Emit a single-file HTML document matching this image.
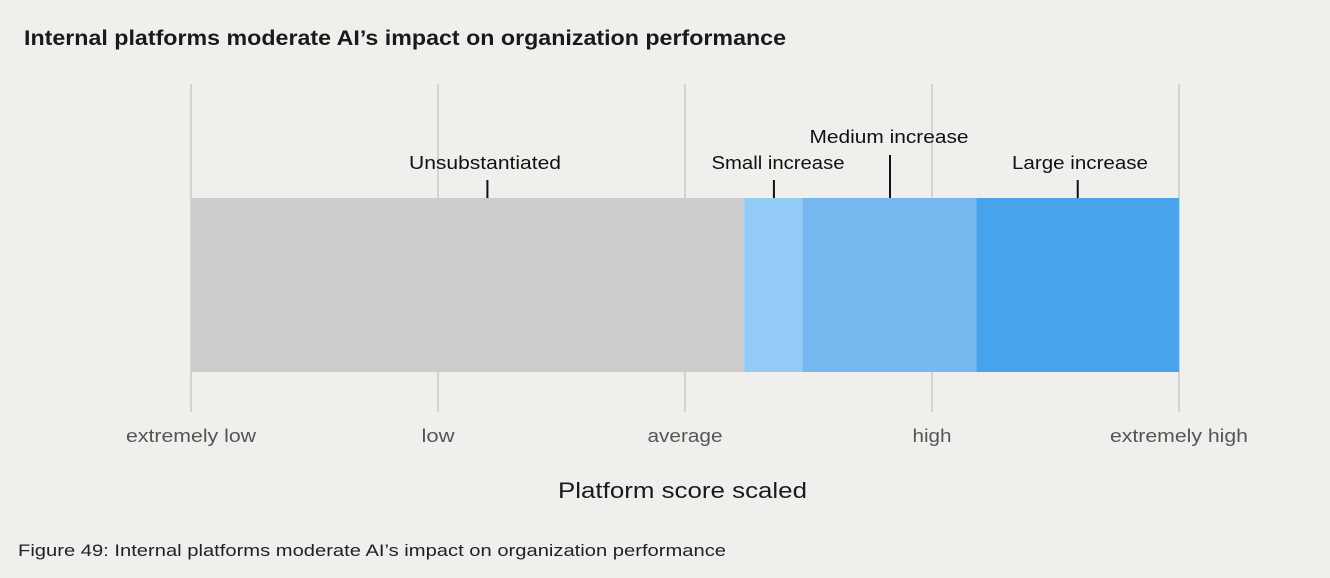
<!DOCTYPE html>
<html><head><meta charset="utf-8"><style>
body{margin:0;background:#f0efec;width:1330px;height:573px;overflow:hidden;font-family:"Liberation Sans",sans-serif}
</style></head><body>
<svg width="1330" height="573">
<text x="24" y="45" font-size="21" font-weight="bold" fill="#1a1a1a" textLength="762" lengthAdjust="spacingAndGlyphs">Internal platforms moderate AI’s impact on organization performance</text>
<g id="grid"></g><g id="bars"></g><g id="labels"></g>
<text x="558" y="498" font-size="22" fill="#1a1a1a" textLength="249" lengthAdjust="spacingAndGlyphs">Platform score scaled</text>
<text x="18" y="556" font-size="17" fill="#222" textLength="708" lengthAdjust="spacingAndGlyphs">Figure 49: Internal platforms moderate AI’s impact on organization performance</text>
</svg>
<script>
const tickLabels=["extremely low","low","average","high","extremely high"];
const segStarts=[0,2.24,2.475,3.18];
const segEnds=[2.24,2.475,3.18,4];
const segColors=["#cccccc","#92cbf5","#76b8f0","#48a3ed"];
const annNames=["Unsubstantiated","Small increase","Medium increase","Large increase"];
const annPos=[1.2,2.36,2.83,3.59];
const annLevel=[0,0,1,0];
const tickW=[130,33,75,39,138];
const annW=[152,133,159,136];
const annCx=[485,778,889,1080];
const ns="http://www.w3.org/2000/svg";
const x=v=>191+v*247;
function mk(t,a,p){const e=document.createElementNS(ns,t);for(const k in a)e.setAttribute(k,a[k]);p.appendChild(e);return e;}
const g=document.getElementById('grid'),b=document.getElementById('bars'),l=document.getElementById('labels');
tickLabels.forEach((t,i)=>{
 const ln=mk('line',{x1:x(i),x2:x(i),y1:84,y2:412,stroke:'#d4d3d0','stroke-width':2},g);
 
 
 const tx=mk('text',{x:x(i)-tickW[i]/2,y:442,'font-size':18,fill:'#555',textLength:tickW[i],lengthAdjust:'spacingAndGlyphs'},g);
 tx.textContent=t;
 
 
});
segStarts.forEach((s,i)=>{
 const r=mk('rect',{x:x(s),y:198,width:x(segEnds[i])-x(s),height:174,fill:segColors[i]},b);
 
 
});
annNames.forEach((n,i)=>{
 const ty=annLevel[i]?143:169, y1=annLevel[i]?155:180;
 const ln=mk('line',{x1:x(annPos[i]),x2:x(annPos[i]),y1:y1,y2:198,stroke:'#111','stroke-width':2},l);
 
 
 const tx=mk('text',{x:annCx[i]-annW[i]/2,y:ty,'font-size':18,fill:'#111',textLength:annW[i],lengthAdjust:'spacingAndGlyphs'},l);
 tx.textContent=n;
 
 
});
</script>
</body></html>
